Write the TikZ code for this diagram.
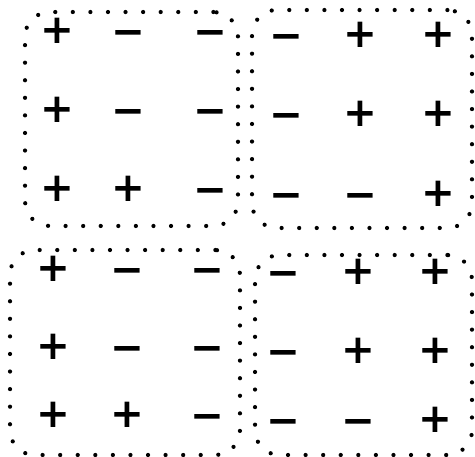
\documentclass[tikz,border=0pt]{standalone}
\usepackage{fontspec}
\setmainfont{DejaVu Sans}
\usetikzlibrary{positioning}
\newcommand\minussign{\raisebox{-0.05em}{−}}
\tikzset{
  panel/.style={draw=black,line width=2.4pt,line cap=round,dash pattern=on 0pt off 10pt,rounded corners=14pt,inner sep=0pt},
  sign/.style={font=\fontsize{23}{26}\selectfont\bfseries,inner sep=0pt,text height=0.74em,text depth=0pt},
}
\begin{document}
\begin{tikzpicture}[x=0.02cm,y=-0.02cm]
\useasboundingbox (0,0) rectangle (475,456);
% the four dotted panels
\node[panel,minimum width=4.26cm,minimum height=4.28cm] (tl) at (131.5,119) {};
\node[panel,minimum width=4.40cm,minimum height=4.36cm] (tr) at (362,119) {};
\node[panel,minimum width=4.60cm,minimum height=4.10cm] (bl) at (125,352.5) {};
\node[panel,minimum width=4.34cm,minimum height=4.00cm] (br) at (363.5,355) {};
% left panels: + - - / + - - / + + -
\foreach \b/\xa/\xb/\xc/\ya/\yb/\yc in {tl/57/128/210/37/116/195,bl/53/127/207/275/353/421}{
  \foreach \r/\y/\sa/\sb/\sc in {1/\ya/+/\minussign/\minussign,2/\yb/+/\minussign/\minussign,3/\yc/+/+/\minussign}{
    \node[sign] (\b-\r-1) at (\xa,\y) {\sa};
    \node[sign] (\b-\r-2) at (\xb,\y) {\sb};
    \node[sign] (\b-\r-3) at (\xc,\y) {\sc};
  }
}
% right panels: - + + / - + + / - - +
\foreach \b/\xa/\xb/\xc/\ya/\yb/\yc in {tr/286/360/438/41/120/200,br/283/358/435/278/357/426}{
  \foreach \r/\y/\sa/\sb/\sc in {1/\ya/\minussign/+/+,2/\yb/\minussign/+/+,3/\yc/\minussign/\minussign/+}{
    \node[sign] (\b-\r-1) at (\xa,\y) {\sa};
    \node[sign] (\b-\r-2) at (\xb,\y) {\sb};
    \node[sign] (\b-\r-3) at (\xc,\y) {\sc};
  }
}
\end{tikzpicture}
\end{document}
